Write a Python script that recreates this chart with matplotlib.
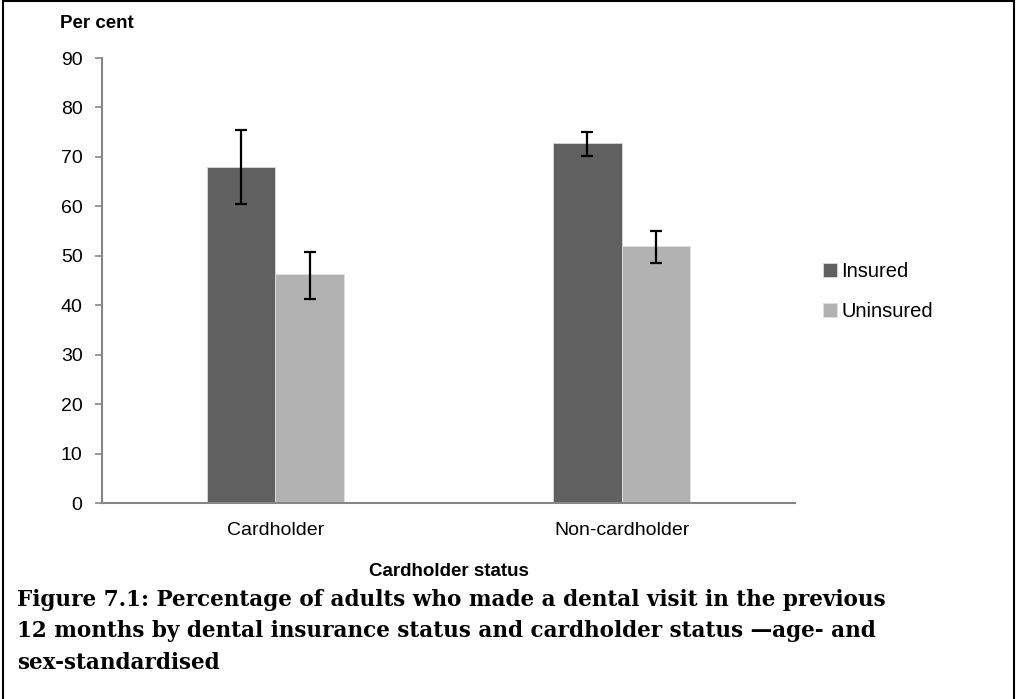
import numpy as np
import matplotlib
matplotlib.use("Agg")
import matplotlib.pyplot as plt
from matplotlib.patches import Rectangle

# dental visits by cardholder / insurance status (per cent, with 95% CI)
categories = ["Cardholder", "Non-cardholder"]
insured = [68.0, 72.8]
insured_lo = [60.5, 70.2]
insured_hi = [75.4, 75.0]
uninsured = [46.3, 52.0]
uninsured_lo = [41.3, 48.5]
uninsured_hi = [50.8, 55.0]

caption = ("Figure 7.1: Percentage of adults who made a dental visit in the previous\n"
           "12 months by dental insurance status and cardholder status \u2014age- and\n"
           "sex-standardised")

plt.rcParams["font.family"] = ["Liberation Sans", "DejaVu Sans"]

fig = plt.figure(figsize=(10.16, 6.99), dpi=100)
ax = fig.add_axes([0.1004, 0.2804, 0.682, 0.6366])

x = np.arange(len(categories))
w = 0.198

ins = np.array(insured)
unins = np.array(uninsured)
ins_err = [ins - np.array(insured_lo), np.array(insured_hi) - ins]
unins_err = [unins - np.array(uninsured_lo), np.array(uninsured_hi) - unins]

err_kw = dict(ecolor="black", elinewidth=1.6, capsize=4.5, capthick=1.6)
ax.bar(x - w / 2, ins, w, color="#606060", edgecolor="#d8d8d8", linewidth=0.6,
       yerr=ins_err, error_kw=err_kw, label="Insured", zorder=2)
ax.bar(x + w / 2, unins, w, color="#b2b2b2", edgecolor="#e0e0e0", linewidth=0.6,
       yerr=unins_err, error_kw=err_kw, label="Uninsured", zorder=2)

ax.set_xlim(-0.5, 1.5)
ax.set_ylim(0, 90)
ax.set_yticks(np.arange(0, 91, 10))
ax.set_xticks(x)
ax.set_xticklabels(categories)

for s in ["top", "right"]:
    ax.spines[s].set_visible(False)
for s in ["left", "bottom"]:
    ax.spines[s].set_color("#868686")
    ax.spines[s].set_linewidth(1.5)
ax.tick_params(axis="y", length=5, width=1.2, color="#868686", labelsize=14, pad=9)
ax.tick_params(axis="x", length=0, labelsize=14, pad=14)

ax.set_xlabel("Cardholder status", fontsize=13.5, fontweight="bold", labelpad=17)
fig.text(0.059, 0.966, "Per cent", fontsize=13.5, fontweight="bold", va="center")

leg = ax.legend(loc="center left", bbox_to_anchor=(1.015, 0.475), frameon=False,
                fontsize=14.5, handlelength=0.65, handleheight=0.65, handletextpad=0.25,
                labelspacing=1.05)

fig.text(0.017, 0.097, caption, fontsize=15.5, fontweight="bold",
         family=["DejaVu Serif"], va="center", linespacing=1.55)

# border round the whole figure (open at the bottom)
fig.patches.append(Rectangle((0.0025, -0.02), 0.9955, 1.019, transform=fig.transFigure,
                             fill=False, edgecolor="black", linewidth=1.5))

fig.savefig("out.png", dpi=100)
